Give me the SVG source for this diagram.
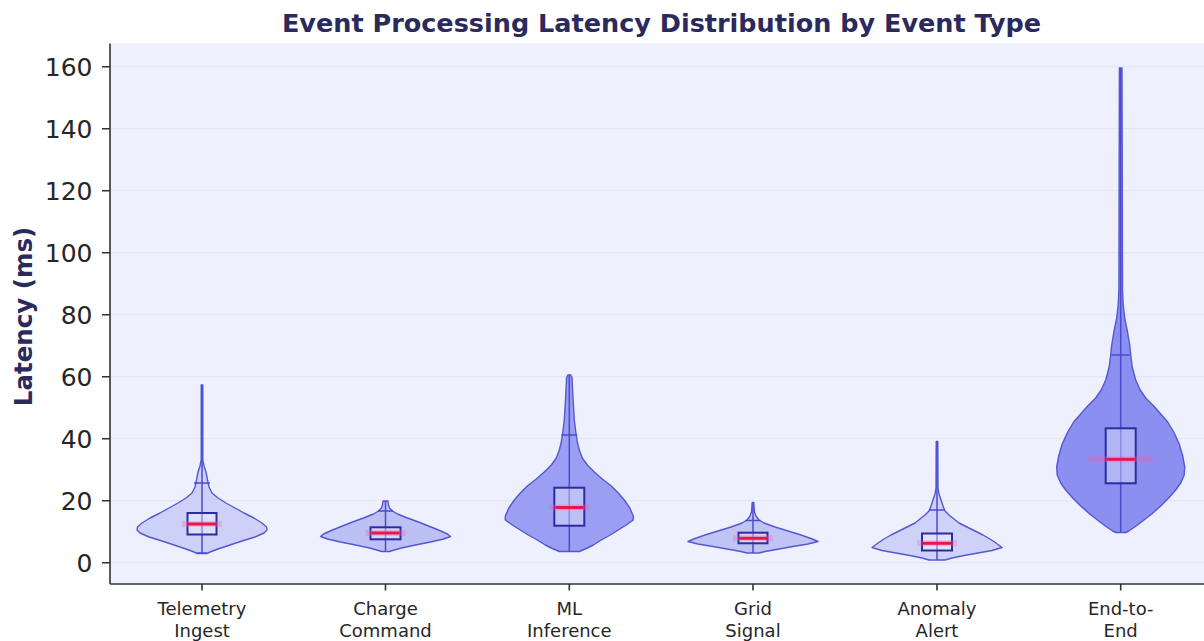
<svg xmlns="http://www.w3.org/2000/svg" width="1204" height="641" viewBox="0 0 1204 641">
<style>
.title{font-family:"DejaVu Sans","Liberation Sans",sans-serif;font-weight:bold;font-size:25.5px;fill:#2b2a5c;text-anchor:middle}
.ylab{font-family:"DejaVu Sans","Liberation Sans",sans-serif;font-weight:bold;font-size:24.5px;fill:#2b2a5c}
.yt{font-family:"DejaVu Sans","Liberation Sans",sans-serif;font-size:25px;fill:#262626;text-anchor:end}
.xt{font-family:"DejaVu Sans","Liberation Sans",sans-serif;font-size:18px;fill:#262626;text-anchor:middle}
.grid{stroke:#e1e4f5;stroke-width:1}
.spine{stroke:#333333;stroke-width:1.6;fill:none}
.v{stroke:#5557d2;stroke-width:1.4;stroke-linejoin:round}
.wh{stroke:#4a4ccf;stroke-width:1.5;fill:none}
.box{fill:#ffffff;fill-opacity:0.35;stroke:#2c2ca0;stroke-width:2}
.med{stroke:#e5174c;stroke-width:3}
.glow{stroke:#ff5aa0;stroke-opacity:0.3;stroke-width:6}
</style>
<rect x="0" y="0" width="1204" height="641" fill="#ffffff"/>
<rect x="110" y="43.5" width="1094" height="540.5" fill="#eef0fd"/>
<g id="grid">
<line class="grid" x1="110" y1="66.7" x2="1204" y2="66.7"/>
<line class="grid" x1="110" y1="128.7" x2="1204" y2="128.7"/>
<line class="grid" x1="110" y1="190.7" x2="1204" y2="190.7"/>
<line class="grid" x1="110" y1="252.7" x2="1204" y2="252.7"/>
<line class="grid" x1="110" y1="314.7" x2="1204" y2="314.7"/>
<line class="grid" x1="110" y1="376.7" x2="1204" y2="376.7"/>
<line class="grid" x1="110" y1="438.7" x2="1204" y2="438.7"/>
<line class="grid" x1="110" y1="500.7" x2="1204" y2="500.7"/>
<line class="grid" x1="110" y1="562.7" x2="1204" y2="562.7"/>
</g>
<text class="title" x="661.5" y="32">Event Processing Latency Distribution by Event Type</text>
<text class="ylab" transform="translate(32,316.5) rotate(-90)" text-anchor="middle">Latency (ms)</text>
<g id="yaxis">
<path class="spine" d="M110 43.5V584 M102 66.7H110 M102 128.7H110 M102 190.7H110 M102 252.7H110 M102 314.7H110 M102 376.7H110 M102 438.7H110 M102 500.7H110 M102 562.7H110"/>
<text class="yt" x="92.5" y="75.7">160</text>
<text class="yt" x="92.5" y="137.7">140</text>
<text class="yt" x="92.5" y="199.7">120</text>
<text class="yt" x="92.5" y="261.7">100</text>
<text class="yt" x="92.5" y="323.7">80</text>
<text class="yt" x="92.5" y="385.7">60</text>
<text class="yt" x="92.5" y="447.7">40</text>
<text class="yt" x="92.5" y="509.7">20</text>
<text class="yt" x="92.5" y="571.7">0</text>
</g>
<g id="xaxis">
<path class="spine" d="M110 584H1204 M202 584V590.5 M385.5 584V590.5 M569.3 584V590.5 M753 584V590.5 M937 584V590.5 M1120.7 584V590.5"/>
<text class="xt" x="202" y="615">Telemetry</text><text class="xt" x="202" y="636.5">Ingest</text>
<text class="xt" x="385.5" y="615">Charge</text><text class="xt" x="385.5" y="636.5">Command</text>
<text class="xt" x="569.3" y="615">ML</text><text class="xt" x="569.3" y="636.5">Inference</text>
<text class="xt" x="753" y="615">Grid</text><text class="xt" x="753" y="636.5">Signal</text>
<text class="xt" x="937" y="615">Anomaly</text><text class="xt" x="937" y="636.5">Alert</text>
<text class="xt" x="1120.7" y="615">End-to-</text><text class="xt" x="1120.7" y="636.5">End</text>
</g>
<g id="telemetry-ingest" transform="translate(202,0)">
<path class="v" fill="#cdd0f7" d="M0.8,385 L0.8,460 2,466 4,472 5.5,480 7,487 10,493 16,498 24,503 33,508 42,513 52,518 60,523 64.5,527 65,530 62,533 53,537 40,541 28,545 16,549 8,552 5,553.5 -5,553.5 -8,552 -16,549 -28,545 -40,541 -53,537 -62,533 -65,530 -64.5,527 -60,523 -52,518 -42,513 -33,508 -24,503 -16,498 -10,493 -7,487 -5.5,480 -4,472 -2,466 -0.8,460 -0.8,385 Z"/>
<path class="wh" d="M0 385V553.5 M-8 483H8 M-5 553H5"/>
<rect class="box" x="-14.5" y="513" width="29" height="21.5"/>
<line class="glow" x1="-20" y1="524" x2="20" y2="524"/>
<line class="med" x1="-14" y1="524" x2="14" y2="524"/>
</g>
<g id="charge-command" transform="translate(385.5,0)">
<path class="v" fill="#bcc0f5" d="M2.5,501 L3,505 4,508 7,511 12,514 22,518 33,522 43,526 53,530 62,534 65,536.5 58,539 45,542 30,545 16,548 7,550.5 4,551.5 -4,551.5 -7,550.5 -16,548 -30,545 -45,542 -58,539 -65,536.5 -62,534 -53,530 -43,526 -33,522 -22,518 -12,514 -7,511 -4,508 -3,505 -2.5,501 Z"/>
<path class="wh" d="M0 501V551.5 M-7.5 511H7.5"/>
<rect class="box" x="-15" y="527.3" width="30" height="12"/>
<line class="glow" x1="-20" y1="533" x2="20" y2="533"/>
<line class="med" x1="-14" y1="533" x2="14" y2="533"/>
</g>
<g id="ml-inference" transform="translate(569.3,0)">
<path class="v" fill="#9b9ef2" d="M1.5,375 L2.7,377.5 3.7,398 5,420 6.5,432 8,442 10,450 13,458 18,465 25,472 33,479 42,486 49,493 55,500 60.5,508 64,516 64,520 57,525 49,530 41,535 32,540 24,545 17,548.5 10,551.5 -10,551.5 -17,548.5 -24,545 -32,540 -41,535 -49,530 -57,525 -64,520 -64,516 -60.5,508 -55,500 -49,493 -42,486 -33,479 -25,472 -18,465 -13,458 -10,450 -8,442 -6.5,432 -5,420 -3.7,398 -2.7,377.5 -1.5,375 Z"/>
<path class="wh" d="M0 375V551.5 M-8 435H8"/>
<rect class="box" x="-15" y="487.7" width="30" height="38"/>
<line class="glow" x1="-20" y1="507.5" x2="20" y2="507.5"/>
<line class="med" x1="-14" y1="507.5" x2="14" y2="507.5"/>
</g>
<g id="grid-signal" transform="translate(753,0)">
<path class="v" fill="#c0c4f5" d="M0.8,502.5 L1.5,512 3,516 6,520 11,523 22,527 35,531 48,535 58,538.5 65,541.5 55,544 40,546.5 26,549 12,551.5 6,553 -6,553 -12,551.5 -26,549 -40,546.5 -55,544 -65,541.5 -58,538.5 -48,535 -35,531 -22,527 -11,523 -6,520 -3,516 -1.5,512 -0.8,502.5 Z"/>
<path class="wh" d="M0 502.5V553 M-7.5 520.5H7.5"/>
<rect class="box" x="-14.5" y="532.7" width="29" height="10.6"/>
<line class="glow" x1="-20" y1="538.3" x2="20" y2="538.3"/>
<line class="med" x1="-14" y1="538.3" x2="14" y2="538.3"/>
</g>
<g id="anomaly-alert" transform="translate(937,0)">
<path class="v" fill="#cfd2f8" d="M0.8,441.5 L1,488 2,494 4,500 6,506 8,511 12,515 17,519 22,523 30,527 38,531 46,535 53,539 59,543 65,547.5 55,550.5 41,553 27,555.5 15,558 8,560 -8,560 -15,558 -27,555.5 -41,553 -55,550.5 -65,547.5 -59,543 -53,539 -46,535 -38,531 -30,527 -22,523 -17,519 -12,515 -8,511 -6,506 -4,500 -2,494 -1,488 -0.8,441.5 Z"/>
<path class="wh" d="M0 441.5V560 M-8 510H8"/>
<rect class="box" x="-15" y="533.5" width="30" height="17"/>
<line class="glow" x1="-20" y1="543.3" x2="20" y2="543.3"/>
<line class="med" x1="-14" y1="543.3" x2="14" y2="543.3"/>
</g>
<g id="end-to-end" transform="translate(1120.7,0)">
<path class="v" fill="#8b8ff0" d="M1.3,68 L1.8,290 2.5,305 4,318 7,333 9,345 10,355 11.5,367 15,380 19.5,390 25,398 33,406 40,414 47,422 53,432 58.5,444 62,456 64,467 63.5,475 60,483 55,490 48,498 40,506 31,514 22,521 14,527 8,531 5,532.5 -5,532.5 -8,531 -14,527 -22,521 -31,514 -40,506 -48,498 -55,490 -60,483 -63.5,475 -64,467 -62,456 -58.5,444 -53,432 -47,422 -40,414 -33,406 -25,398 -19.5,390 -15,380 -11.5,367 -10,355 -9,345 -7,333 -4,318 -2.5,305 -1.8,290 -1.3,68 Z"/>
<path class="wh" d="M0 68V532.5 M-9 355H9"/>
<rect class="box" x="-15" y="428.3" width="30" height="55"/>
<line class="glow" x1="-32" y1="459.3" x2="32" y2="459.3" stroke-opacity="0.2"/>
<line class="med" x1="-14" y1="459.3" x2="14" y2="459.3"/>
</g>
</svg>
